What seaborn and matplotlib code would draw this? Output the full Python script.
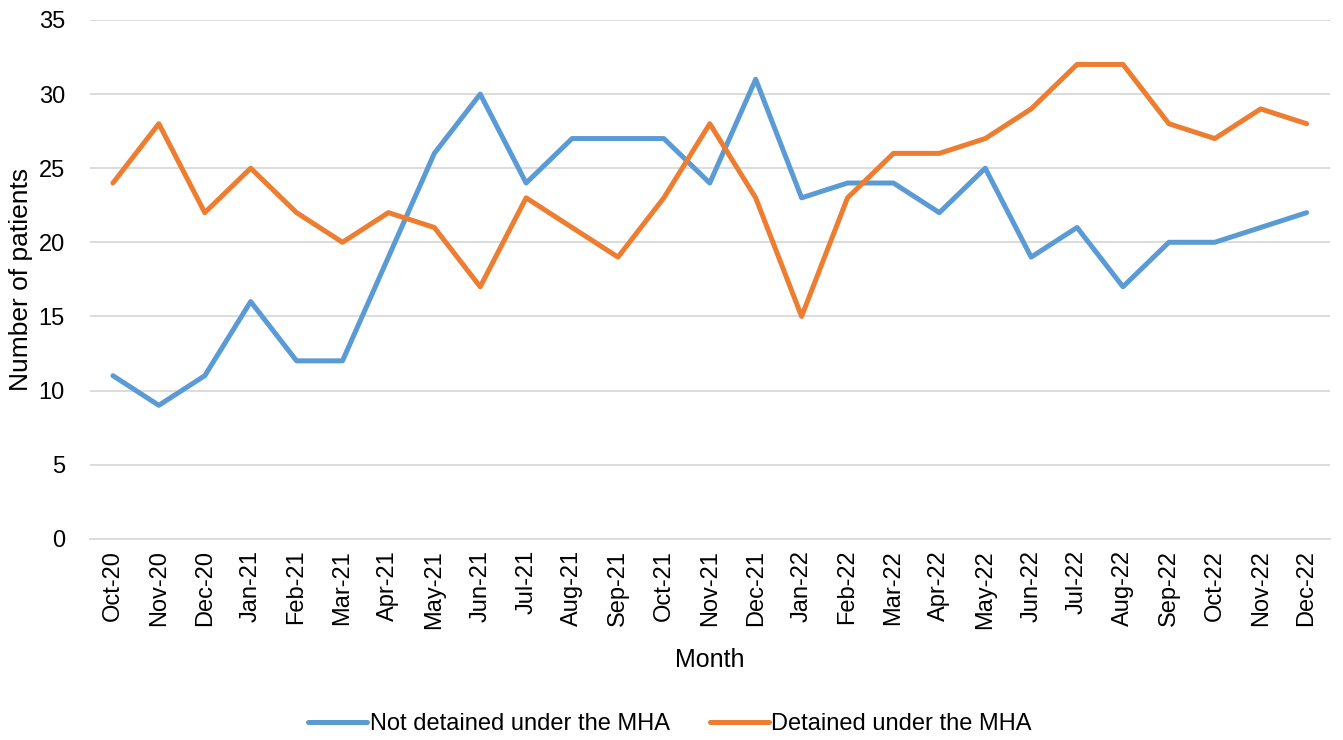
import pandas as pd
import seaborn as sns
from matplotlib import pyplot as plt

# Dados
meses = ['Oct-20', 'Nov-20', 'Dec-20', 'Jan-21', 'Feb-21', 'Mar-21', 'Apr-21', 'May-21', 'Jun-21',
         'Jul-21', 'Aug-21', 'Sep-21', 'Oct-21', 'Nov-21', 'Dec-21', 'Jan-22', 'Feb-22', 'Mar-22',
         'Apr-22', 'May-22', 'Jun-22', 'Jul-22', 'Aug-22', 'Sep-22', 'Oct-22', 'Nov-22', 'Dec-22']
nao_detidos = [11, 9, 11, 16, 12, 12, 19, 26, 30, 24, 27, 27, 27, 24, 31, 23, 24, 24, 22, 25,
               19, 21, 17, 20, 20, 21, 22]
detidos = [24, 28, 22, 25, 22, 20, 22, 21, 17, 23, 21, 19, 23, 28, 23, 15, 23, 26, 26, 27,
           29, 32, 32, 28, 27, 29, 28]
series = ['Not detained under the MHA', 'Detained under the MHA']
cores = ['#5B9BD5', '#ED7D31']

dados = pd.DataFrame({
    'Month': meses * 2,
    'pos': list(range(len(meses))) * 2,
    'Number of patients': nao_detidos + detidos,
    'serie': [series[0]] * len(meses) + [series[1]] * len(meses),
})

sns.set_style('white')
plt.rcParams['font.family'] = ['Liberation Sans', 'DejaVu Sans']
plt.rcParams['text.color'] = 'black'
plt.rcParams['axes.labelcolor'] = 'black'
plt.rcParams['xtick.color'] = 'black'
plt.rcParams['ytick.color'] = 'black'

fig = plt.figure(figsize=(13.43, 7.4), dpi=100)
ax = fig.add_axes([0.067, 0.272, 0.923, 0.701])

sns.lineplot(data=dados, x='pos', y='Number of patients', hue='serie', palette=cores,
             linewidth=3.6, sort=False, ax=ax)

ax.set_xlim(-0.5, len(meses) - 0.5)
ax.set_ylim(0, 35)
ax.set_yticks(range(0, 36, 5))
ax.set_xticks(range(len(meses)))
ax.set_xticklabels(meses, rotation=90, fontsize=17)
ax.set_xticks([k + 0.5 for k in range(-1, len(meses))], minor=True)
ax.tick_params(axis='x', which='major', length=0, pad=8)
ax.tick_params(axis='x', which='minor', length=7, color='#D9D9D9', width=1.2)
ax.tick_params(axis='y', length=0, labelsize=17, pad=18)
ax.grid(axis='y', color='#D9D9D9', linewidth=1.3)
ax.set_axisbelow(True)

for lado in ['top', 'right', 'left']:
    ax.spines[lado].set_visible(False)
ax.spines['bottom'].set_color('#D9D9D9')
ax.spines['bottom'].set_linewidth(1.3)

ax.set_xlabel('Month', fontsize=18, labelpad=14)
ax.set_ylabel('Number of patients', fontsize=19, labelpad=4)

ax.legend(loc='center', bbox_to_anchor=(0.468, -0.357), ncol=2, frameon=False,
          fontsize=17, handlelength=2.5, columnspacing=1.7, handletextpad=0.1)

plt.savefig('out.png', dpi=100)
